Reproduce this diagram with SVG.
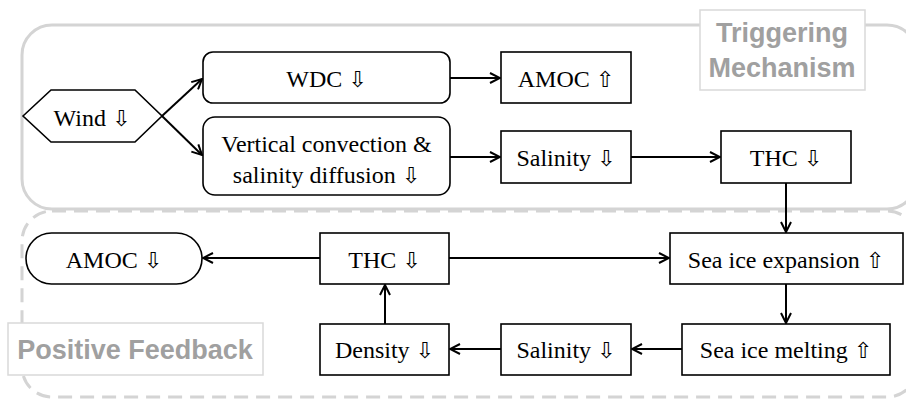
<svg xmlns="http://www.w3.org/2000/svg" width="906" height="400" viewBox="0 0 906 400">
<defs>
<style>
.region{fill:none;stroke:#d4d4d4;stroke-width:3}
.dash{stroke-dasharray:14 8}
.lbox{fill:#fff;stroke:#d9d9d9;stroke-width:1.5}
.ltxt{font-family:"Liberation Sans",Arial,sans-serif;font-weight:bold;font-size:27px;fill:#a0a0a0;text-anchor:middle}
.node{fill:#fff;stroke:#000;stroke-width:1.6}
.t{font-family:"Liberation Serif","Times New Roman",serif;font-size:24px;fill:#000;text-anchor:middle}
.a{font-family:"DejaVu Sans",sans-serif;font-size:22px;font-variant-emoji:text;fill:#000}
.edge{fill:none;stroke:#000;stroke-width:2;marker-end:url(#ah)}
</style>
<marker id="ah" viewBox="0 0 12 12" refX="11" refY="6" markerWidth="12" markerHeight="12" markerUnits="userSpaceOnUse" orient="auto">
<path d="M1,1 L11,6 L1,11" fill="none" stroke="#000" stroke-width="2"/>
</marker>
</defs>
<g id="regions">
<rect class="region dash" x="22" y="211" width="895" height="186" rx="30"/>
<rect class="region" x="22" y="25" width="895" height="184" rx="30"/>
</g>
<g id="label-triggering">
<rect class="lbox" x="700" y="10" width="165" height="80"/>
<text class="ltxt" x="782" y="42">Triggering</text>
<text class="ltxt" x="782" y="77">Mechanism</text>
</g>
<g id="label-positive">
<rect class="lbox" x="8" y="323" width="255" height="52"/>
<text class="ltxt" x="135" y="359">Positive Feedback</text>
</g>
<g id="wind">
<polygon class="node" points="23,116 51,90 135,90 162,116 135,142 51,142"/>
<text class="t" x="92" y="126">Wind <tspan class="a">⇩</tspan></text>
</g>
<g id="wdc">
<rect class="node" x="203" y="52" width="247" height="51" rx="10"/>
<text class="t" x="326.5" y="87">WDC <tspan class="a">⇩</tspan></text>
</g>
<g id="vertical">
<rect class="node" x="203" y="117" width="247" height="78" rx="12"/>
<text class="t" x="326.5" y="152">Vertical convection &amp;</text>
<text class="t" x="326.5" y="183">salinity diffusion <tspan class="a">⇩</tspan></text>
</g>
<g id="amoc-up">
<rect class="node" x="501" y="52" width="130" height="51"/>
<text class="t" x="566" y="87">AMOC <tspan class="a">⇧</tspan></text>
</g>
<g id="salinity-top">
<rect class="node" x="501" y="131" width="130" height="52"/>
<text class="t" x="566" y="166">Salinity <tspan class="a">⇩</tspan></text>
</g>
<g id="thc-top">
<rect class="node" x="721" y="131" width="130" height="52"/>
<text class="t" x="786" y="166">THC <tspan class="a">⇩</tspan></text>
</g>
<g id="sea-ice-expansion">
<rect class="node" x="670" y="233" width="233" height="51"/>
<text class="t" x="786" y="268">Sea ice expansion <tspan class="a">⇧</tspan></text>
</g>
<g id="sea-ice-melting">
<rect class="node" x="682" y="324" width="208" height="51"/>
<text class="t" x="786" y="358">Sea ice melting <tspan class="a">⇧</tspan></text>
</g>
<g id="salinity-bottom">
<rect class="node" x="501" y="324" width="130" height="51"/>
<text class="t" x="566" y="358">Salinity <tspan class="a">⇩</tspan></text>
</g>
<g id="density">
<rect class="node" x="320" y="324" width="129" height="51"/>
<text class="t" x="384.5" y="358">Density <tspan class="a">⇩</tspan></text>
</g>
<g id="thc-bottom">
<rect class="node" x="320" y="233" width="129" height="51"/>
<text class="t" x="384.5" y="268">THC <tspan class="a">⇩</tspan></text>
</g>
<g id="amoc-down">
<rect class="node" x="26" y="233" width="176" height="51" rx="25.5"/>
<text class="t" x="114" y="268">AMOC <tspan class="a">⇩</tspan></text>
</g>
<g id="connectors">
<path class="edge" d="M162,116 L202,79"/>
<path class="edge" d="M162,116 L202,155"/>
<path class="edge" d="M450,78 L500,78"/>
<path class="edge" d="M450,157 L500,157"/>
<path class="edge" d="M631,157 L720,157"/>
<path class="edge" d="M786,183 L786,232"/>
<path class="edge" d="M786,284 L786,323"/>
<path class="edge" d="M682,349 L632,349"/>
<path class="edge" d="M501,349 L450,349"/>
<path class="edge" d="M385,324 L385,285"/>
<path class="edge" d="M449,258 L669,258"/>
<path class="edge" d="M320,258 L203,258"/>
</g>
</svg>
